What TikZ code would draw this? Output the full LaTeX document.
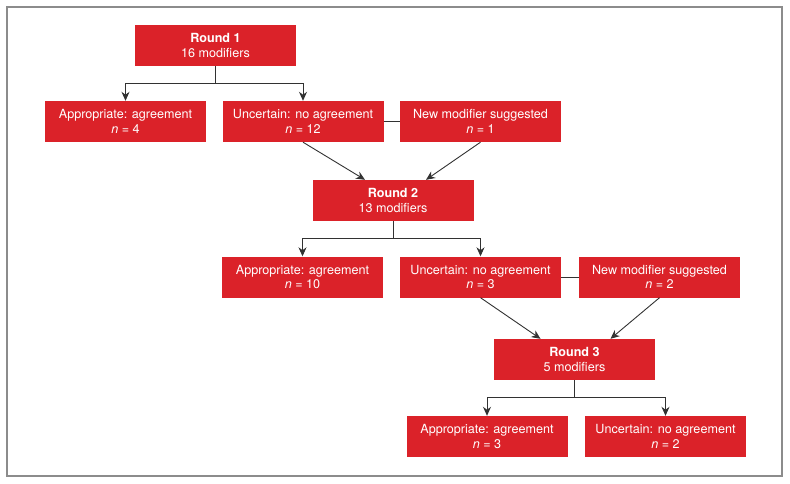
\documentclass[tikz,border=0pt]{standalone}
\usepackage{fontspec}
\setmainfont{TeX Gyre Heros}
\usetikzlibrary{arrows.meta}
\definecolor{boxred}{RGB}{219,34,41}
\definecolor{linegray}{RGB}{50,50,50}
\definecolor{framegray}{RGB}{140,140,140}
\tikzset{
	box/.style={fill=boxred,text=white,minimum width=161pt,minimum height=41pt,inner sep=0pt,align=center,font=\fontsize{12.6}{14.5}\selectfont},
	link/.style={draw=linegray,line width=.9pt}
}
\begin{document}
\begin{tikzpicture}[>={Stealth[length=9pt,width=8pt]},x=1pt,y=-1pt]
			\def\drop{17} % Abstand bis zur Verzweigung
			\useasboundingbox (0,0) rectangle (790,484);
			\draw[framegray,line width=1.2pt] (7,7) rectangle (782,476);
			% Runde 1
			\node[box] (r1) at (215.5,45.5) {\textbf{Round 1}\\16 modifiers};
			\node[box] (a1) at (125.5,121.5) {Appropriate: agreement\\\textit{n} = 4};
			\node[box] (u1) at (303,121.5) {Uncertain: no agreement\\\textit{n} = 12};
			\node[box] (n1) at (480.5,121.5) {New modifier suggested\\\textit{n} = 1};
			% Runde 2
			\node[box] (r2) at (393,200.5) {\textbf{Round 2}\\13 modifiers};
			\node[box] (a2) at (302.5,277) {Appropriate: agreement\\\textit{n} = 10};
			\node[box] (u2) at (480.5,277) {Uncertain: no agreement\\\textit{n} = 3};
			\node[box] (n2) at (659.5,277) {New modifier suggested\\\textit{n} = 2};
			% Runde 3
			\node[box] (r3) at (574.5,359.5) {\textbf{Round 3}\\5 modifiers};
			\node[box] (a3) at (487,436.5) {Appropriate: agreement\\\textit{n} = 3};
			\node[box] (u3) at (665.5,436.5) {Uncertain: no agreement\\\textit{n} = 2};
			
			\draw[link] (r1.south) -- ++(0,\drop) coordinate (b1);
			\draw[link,->] (b1) -| (a1.north);
			\draw[link,->] (b1) -| (u1.north);
			\draw[link] (u1.east) -- (n1.west);
			\draw[link,->] (u1.south) -- ([xshift=-28pt]r2.north);
			\draw[link,->] (n1.south) -- ([xshift=33pt]r2.north);
			
			\draw[link] (r2.south) -- ++(0,\drop) coordinate (b2);
			\draw[link,->] (b2) -| (a2.north);
			\draw[link,->] (b2) -| (u2.north);
			\draw[link] (u2.east) -- (n2.west);
			\draw[link,->] (u2.south) -- ([xshift=-34pt]r3.north);
			\draw[link,->] (n2.south) -- ([xshift=36pt]r3.north);
			
			\draw[link] (r3.south) -- ++(0,\drop) coordinate (b3);
			\draw[link,->] (b3) -| (a3.north);
			\draw[link,->] (b3) -| (u3.north);
		\end{tikzpicture}
\end{document}
